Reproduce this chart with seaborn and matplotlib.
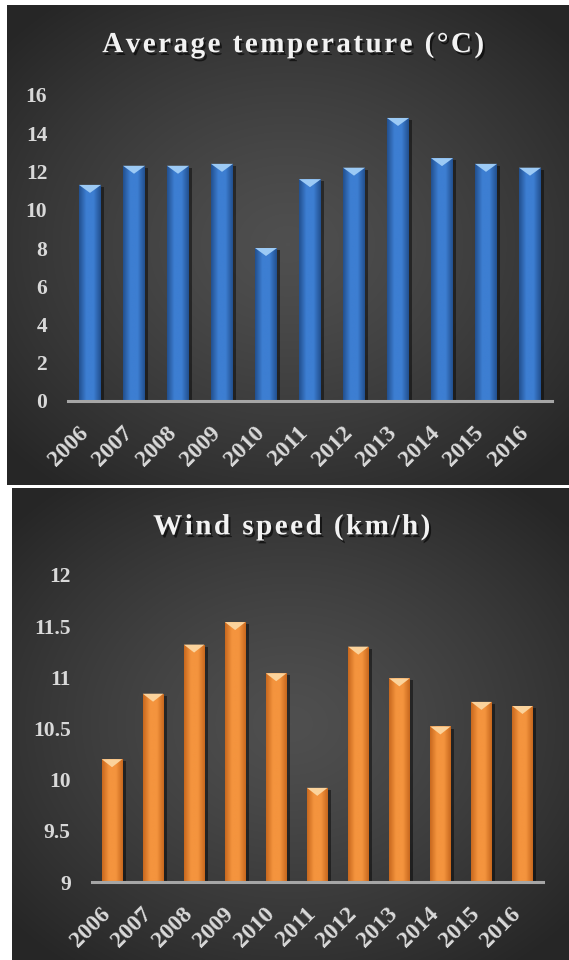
import numpy as np
import pandas as pd
import matplotlib
matplotlib.use("Agg")
import matplotlib.pyplot as plt
import matplotlib.transforms as mtransforms
from matplotlib import patheffects as pe
from matplotlib.patches import Polygon
from matplotlib.colors import LinearSegmentedColormap
import seaborn as sns

# ---- data ----
years = ["2006", "2007", "2008", "2009", "2010", "2011",
         "2012", "2013", "2014", "2015", "2016"]
avg_temp = [11.3, 12.3, 12.3, 12.4, 8.0, 11.6, 12.2, 14.8, 12.7, 12.4, 12.2]
wind_speed = [10.2, 10.84, 11.32, 11.54, 11.04, 9.92, 11.3, 10.99, 10.52, 10.76, 10.72]
temp_ticks = [0, 2, 4, 6, 8, 10, 12, 14, 16]
wind_ticks = [9, 9.5, 10, 10.5, 11, 11.5, 12]
wind_tick_labels = ["9", "9.5", "10", "10.5", "11", "11.5", "12"]

W, H = 569, 960
sns.set_theme(style="white")
plt.rcParams["font.family"] = ["Liberation Serif", "DejaVu Serif"]

fig = plt.figure(figsize=(W / 100, H / 100), dpi=100)
fig.patch.set_facecolor("white")


def to_fig(x0, y0, x1, y1):
    """Pixel box (top-left origin) -> figure fraction rect."""
    return [x0 / W, 1 - y1 / H, (x1 - x0) / W, (y1 - y0) / H]


def spaced(text):
    """Widen letter spacing with hair spaces between characters."""
    return "\u200a".join(text)


def panel_background(box):
    bg = fig.add_axes(to_fig(*box), zorder=0)
    yy, xx = np.mgrid[-1:1:240j, -1:1:240j]
    r = np.clip(np.hypot(xx * 1.0, yy * 1.05) / 1.35, 0, 1)
    shade = 0.31 - (0.31 - 0.15) * r ** 1.3
    bg.imshow(np.dstack([shade] * 3), extent=[0, 1, 0, 1], aspect="auto",
              interpolation="bilinear")
    bg.set_axis_off()


def styled_bars(ax, values, edge, mid, cap, ylim, cap_px=8):
    df = pd.DataFrame({"year": years, "value": values})
    sns.barplot(data=df, x="year", y="value", ax=ax, color=mid,
                width=0.5, saturation=1, zorder=2,
                edgecolor="none", linewidth=0)
    ax.set_ylim(*ylim)
    ax.set_xlim(-0.5, len(years) - 0.5)
    fig.canvas.draw()
    ax_h = ax.get_window_extent().height
    cap_h = (ylim[1] - ylim[0]) * cap_px / ax_h
    cmap = LinearSegmentedColormap.from_list("bar", [edge, mid, mid, edge])
    grad = np.linspace(0, 1, 64)[None, :]
    for p in list(ax.patches):
        x0, w = p.get_x(), p.get_width()
        y0, h = p.get_y(), p.get_height()
        top = y0 + h
        p.set_path_effects([pe.SimplePatchShadow(offset=(2.5, -1.5),
                                                 shadow_rgbFace="black",
                                                 alpha=0.45), pe.Normal()])
        im = ax.imshow(grad, extent=[x0, x0 + w, ylim[0], top], cmap=cmap,
                       aspect="auto", zorder=2.1, interpolation="bilinear")
        im.set_clip_path(p)
        tri = Polygon([[x0, top], [x0 + w, top], [x0 + w / 2, top - cap_h]],
                      closed=True, facecolor=cap, edgecolor="none", zorder=2.2)
        ax.add_patch(tri)
    ax.set_ylim(*ylim)
    ax.set_xlim(-0.5, len(years) - 0.5)


def style_axes(ax, ticks, labels, label_dx, label_dy):
    ax.set_facecolor("none")
    for side in ("left", "right", "top"):
        ax.spines[side].set_visible(False)
    ax.spines["bottom"].set_color("#a6a6a6")
    ax.spines["bottom"].set_linewidth(2.2)
    ax.spines["bottom"].set_zorder(3)
    ax.set_yticks(ticks)
    ax.set_yticklabels(labels)
    ax.set_xlabel("")
    ax.set_ylabel("")
    ax.tick_params(axis="both", length=0, colors="#d9d9d9")
    ax.tick_params(axis="y", pad=15, labelsize=15.5)
    ax.tick_params(axis="x", labelsize=17)
    ax.set_xticks(range(len(years)))
    ax.set_xticklabels(years, rotation=45, ha="right", va="center",
                       rotation_mode="anchor")
    offset = mtransforms.ScaledTranslation(label_dx / 100, label_dy / 100,
                                           fig.dpi_scale_trans)
    for lab in ax.get_xticklabels():
        lab.set_fontweight("bold")
        lab.set_color("#d9d9d9")
        lab.set_transform(lab.get_transform() + offset)
    for lab in ax.get_yticklabels():
        lab.set_fontweight("bold")
        lab.set_color("#d9d9d9")


def title(x, y, text):
    fig.text(x / W, 1 - y / H, spaced(text), ha="center", va="center",
             fontsize=21, fontweight="bold", color="#f2f2f2",
             path_effects=[pe.withSimplePatchShadow(offset=(1.5, -2),
                                                    shadow_rgbFace="black",
                                                    alpha=0.6)])


# ---- top panel: average temperature ----
panel_background((7, 5, 569, 485))
ax1 = fig.add_axes(to_fig(68, 95, 552, 401), zorder=1)
styled_bars(ax1, avg_temp, edge="#22508f", mid="#3d7ed2", cap="#9ccaf5",
            ylim=(0, 16))
style_axes(ax1, temp_ticks, [str(t) for t in temp_ticks], -5, -24)
title(292, 45, "Average temperature (°C)")

# ---- bottom panel: wind speed ----
panel_background((12, 488, 569, 960))
ax2 = fig.add_axes(to_fig(91.5, 575, 543, 882), zorder=1)
styled_bars(ax2, wind_speed, edge="#c8681e", mid="#f4943e", cap="#fbd39c",
            ylim=(9, 12))
style_axes(ax2, wind_ticks, wind_tick_labels, -5, -24)
title(291, 527, "Wind speed (km/h)")

fig.savefig("out.png", dpi=100, facecolor=fig.get_facecolor())
